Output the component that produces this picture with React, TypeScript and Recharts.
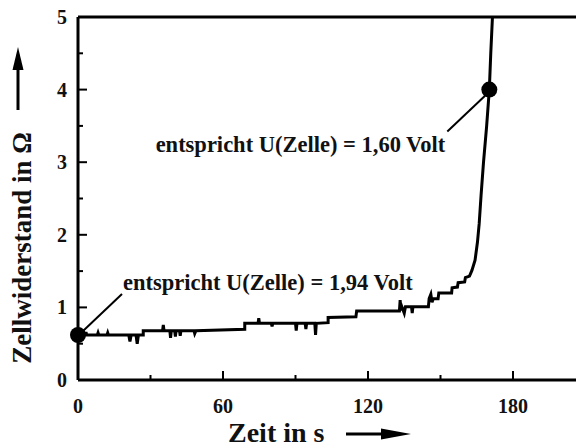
import { LineChart, Line, XAxis, YAxis, ReferenceLine, ReferenceDot } from 'recharts';

// Zeit in s
const time = [
  0, 3, 3.3, 3.6, 8, 8.3, 8.6, 12, 12.3, 12.6, 21, 21.5, 22, 24, 24.5, 25,
  27, 27, 35, 35.3, 35.6, 38, 38.3, 38.6, 40, 40.3, 40.6, 42, 42.3, 42.6, 48, 48.3, 48.8,
  69, 69, 74.5, 74.8, 75.1, 80, 80.3, 80.6, 90, 90.3, 90.6, 94, 94.3, 94.6, 98, 98.3, 98.6,
  103.5, 103.5, 115, 115.3, 133, 133.3, 133.6, 134, 135, 135.5, 138, 138.3, 138.6,
  145, 145.3, 146, 146.5, 147, 149, 149.3, 154.6, 154.8, 157, 157.3, 160, 160.3,
  162, 163, 164.3, 165.3, 166, 166.8, 167.8, 169.1, 170.2, 170.8, 171.5,
];
// Zellwiderstand in Ohm
const resistance = [
  0.62, 0.62, 0.66, 0.62, 0.62, 0.65, 0.62, 0.62, 0.65, 0.62, 0.62, 0.53, 0.62, 0.62, 0.5, 0.62,
  0.62, 0.68, 0.68, 0.76, 0.68, 0.68, 0.58, 0.68, 0.68, 0.6, 0.68, 0.68, 0.61, 0.68, 0.68, 0.64, 0.68,
  0.7, 0.78, 0.78, 0.85, 0.78, 0.78, 0.74, 0.78, 0.78, 0.68, 0.78, 0.78, 0.7, 0.78, 0.78, 0.62, 0.78,
  0.79, 0.86, 0.87, 0.95, 0.95, 1.1, 0.96, 1.01, 0.92, 1.01, 1.01, 0.92, 1.01,
  1.01, 1.12, 1.18, 1.07, 1.12, 1.12, 1.2, 1.2, 1.27, 1.28, 1.34, 1.35, 1.41,
  1.43, 1.51, 1.65, 1.9, 2.15, 2.55, 3.0, 3.5, 4.0, 4.5, 5.0,
];

const xTicks = [0, 30, 60, 90, 120, 150, 180, 210];
const yTicks = [0, 0.5, 1, 1.5, 2, 2.5, 3, 3.5, 4, 4.5, 5];

const markTime = [0, 170.2];
const markRes = [0.62, 4.0];
const markText = ['entspricht U(Zelle) = 1,94 Volt', 'entspricht U(Zelle) = 1,60 Volt'];

const data = time.map((t, i) => ({ t, r: resistance[i] }));

const FONT = '"Liberation Serif", "Times New Roman", serif';
const Y_MARGIN = 11;
const X_MARGIN = 19;

function YTick(props: any) {
  const { x, y, payload } = props;
  const v = payload.value;
  const major = Number.isInteger(v);
  const ax = x + Y_MARGIN;
  return (
    <g>
      <line x1={ax} x2={ax + (major ? 9 : 5)} y1={y} y2={y} stroke="#000" strokeWidth={2} />
      {major && (
        <text x={x} y={y} dy="0.35em" textAnchor="end" fontFamily={FONT} fontWeight="bold" fontSize={20} fill="#111">
          {v}
        </text>
      )}
    </g>
  );
}

function XTick(props: any) {
  const { x, y, payload } = props;
  const v = payload.value;
  const major = v % 60 === 0;
  const ay = y - X_MARGIN;
  return (
    <g>
      <line x1={x} x2={x} y1={ay} y2={ay - (major ? 9 : 5)} stroke="#000" strokeWidth={2} />
      {major && v < 210 && (
        <text x={x} y={y} dy="0.72em" textAnchor="middle" fontFamily={FONT} fontWeight="bold" fontSize={20} fill="#111">
          {v}
        </text>
      )}
    </g>
  );
}

function Marker(props: any) {
  const { cx, cy, idx } = props;
  if (idx === 0) {
    return (
      <g>
        <circle cx={cx} cy={cy} r={8} fill="#000" />
        <line x1={cx + 5} y1={cy - 4} x2={cx + 44} y2={cy - 41} stroke="#000" strokeWidth={2} />
        <text x={cx + 45} y={cy - 45} fontFamily={FONT} fontWeight="bold" fontSize={22.5} fill="#111">
          {markText[0]}
        </text>
      </g>
    );
  }
  return (
    <g>
      <circle cx={cx} cy={cy} r={8} fill="#000" />
      <line x1={cx - 4} y1={cy + 6} x2={cx - 42} y2={cy + 42} stroke="#000" strokeWidth={2} />
      <text x={cx - 44} y={cy + 62} textAnchor="end" fontFamily={FONT} fontWeight="bold" fontSize={22.5} fill="#111">
        {markText[1]}
      </text>
    </g>
  );
}

export default function App() {
  return (
    <div style={{ position: 'absolute', left: 0, top: 0, width: 576, height: 448, overflow: 'hidden', background: '#fff' }}>
      <LineChart width={600} height={448} data={data} margin={{ top: 17, right: 14.5, bottom: 38, left: 18 }}>
        <XAxis
          dataKey="t"
          type="number"
          domain={[0, 210]}
          ticks={xTicks}
          interval={0}
          height={30}
          tickSize={0}
          tickMargin={X_MARGIN}
          tickLine={false}
          axisLine={{ stroke: '#000', strokeWidth: 3 }}
          tick={<XTick />}
        />
        <YAxis
          type="number"
          domain={[0, 5]}
          ticks={yTicks}
          interval={0}
          width={60}
          tickSize={0}
          tickMargin={Y_MARGIN}
          tickLine={false}
          axisLine={{ stroke: '#000', strokeWidth: 3 }}
          tick={<YTick />}
        />
        <ReferenceLine y={5} stroke="#000" strokeWidth={3} />
        <ReferenceLine x={210} stroke="#000" strokeWidth={3} />
        <Line
          type="linear"
          dataKey="r"
          stroke="#000"
          strokeWidth={3}
          dot={false}
          isAnimationActive={false}
        />
        {markTime.map((t, i) => (
          <ReferenceDot key={i} x={t} y={markRes[i]} r={8} shape={(p: any) => <Marker {...p} idx={i} />} />
        ))}
      </LineChart>
      <svg width={576} height={448} style={{ position: 'absolute', left: 0, top: 0, pointerEvents: 'none' }}>
        <text
          transform="translate(31,248) rotate(-90)"
          textAnchor="middle"
          fontFamily={FONT}
          fontWeight="bold"
          fontSize={27}
          fill="#111"
        >
          Zellwiderstand in Ω
        </text>
        <line x1={18} y1={110} x2={18} y2={66} stroke="#000" strokeWidth={3} />
        <polygon points="18,47 12.5,70 23.5,70" fill="#000" />
        <text x={228} y={442} fontFamily={FONT} fontWeight="bold" fontSize={28} fill="#111">
          Zeit in s
        </text>
        <line x1={346} y1={434} x2={385} y2={434} stroke="#000" strokeWidth={3} />
        <polygon points="411,434 381,428.5 381,439.5" fill="#000" />
      </svg>
    </div>
  );
}
